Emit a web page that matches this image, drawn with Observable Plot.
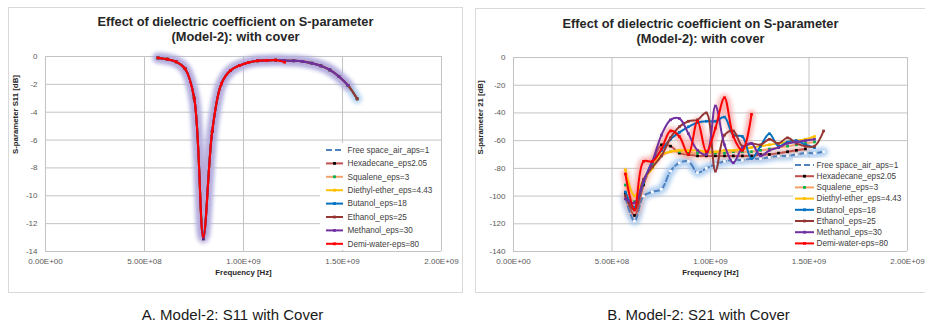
<!DOCTYPE html>
<html><head><meta charset="utf-8">
<script src="https://cdn.jsdelivr.net/npm/d3@7"></script>
<script src="https://cdn.jsdelivr.net/npm/@observablehq/plot@0.6"></script>
<style>
body{margin:0;background:#fff;width:925px;height:327px;position:relative;overflow:hidden;font-family:"Liberation Sans",Arial,sans-serif;}
.panel{position:absolute;border:1px solid #d9d9d9;box-sizing:border-box;background:#fff;}
.title{position:absolute;text-align:center;font-weight:bold;font-size:12.8px;color:#262626;line-height:15px;}
.plot{position:absolute;}
.legend{position:absolute;background:#fff;}
.caption{position:absolute;font-size:15px;color:#1a1a1a;text-align:center;line-height:18px;}
g[stroke="#b9a2d6"],g[stroke="#9fc4ee"],g[stroke="#f59c9c"],g[stroke="#f4b8a8"]{filter:blur(2.2px);}
</style></head>
<body>
<div class="panel" style="left:8px;top:7px;width:455px;height:286px"></div>
<div class="panel" style="left:475px;top:8px;width:451px;height:285px"></div>
<div class="title" style="left:8px;width:455px;top:14px">Effect of dielectric coefficient on S-parameter<br>(Model-2): with cover</div>
<div class="title" style="left:475px;width:451px;top:16px">Effect of dielectric coefficient on S-parameter<br>(Model-2): with cover</div>
<div class="plot" id="plotA" style="left:8px;top:45px"></div>
<div class="plot" id="plotB" style="left:475px;top:45px"></div>
<div class="legend" id="legA" style="left:320px;top:143px;width:121px;height:107px"></div>
<div class="legend" id="legB" style="left:793px;top:158px;width:114px;height:92px"></div>
<div class="caption" style="left:0px;width:465px;top:306px">A. Model-2: S11 with Cover</div>
<div class="caption" style="left:465px;width:467px;top:306px">B. Model-2: S21 with Cover</div>
<script>
// ---------- data ----------
const freqHz = [5.68e8, 6.14e8, 6.60e8, 7.05e8, 7.51e8, 7.97e8, 8.42e8, 8.88e8, 9.34e8, 9.79e8, 1.025e9, 1.071e9,
  1.116e9, 1.162e9, 1.208e9, 1.254e9, 1.299e9, 1.345e9, 1.391e9, 1.436e9, 1.482e9, 1.528e9, 1.574e9];

const seriesNames = ["Free space_air_aps=1", "Hexadecane_eps2.05", "Squalene_eps=3", "Diethyl-ether_eps=4.43",
  "Butanol_eps=18", "Ethanol_eps=25", "Methanol_eps=30", "Demi-water-eps=80"];
const lineColors = ["#4f81bd", "#c0504d", "#f5a26a", "#ffc000", "#0070c0", "#943634", "#7030a0", "#ff0000"];
const markerColors = ["#ffffff", "#000000", "#00b050", "#ffc000", "#0070c0", "#943634", "#7030a0", "#ff0000"];
const lineDashes = ["6,3", null, null, null, null, null, null, null];

// S11 [dB] (panel A)
const s11FreeSpace = [-0.10,-0.19,-0.38,-0.88,-2.99,-12.85,-5.38,-1.96,-1.00,-0.65,-0.43,-0.31,-0.29,-0.26,-0.29,-0.31,-0.36,-0.48,-0.67,-0.96,-1.44,-2.08,-3.04];
const s11Hexadecane = [-0.10,-0.19,-0.38,-0.88,-2.99,-13.10,-5.38,-1.96,-1.00,-0.65,-0.43,-0.31,-0.29,-0.26,-0.29,-0.31,-0.36,-0.48,-0.67,-0.96,-1.44,-2.08,-3.04];
const s11Squalene = [-0.10,-0.19,-0.38,-0.88,-2.99,-13.00,-5.38,-1.96,-1.00,-0.65,-0.43,-0.31,-0.29,-0.26,-0.29,-0.31,-0.36,-0.48,-0.67,-0.96,-1.44,-2.08,-3.04];
const s11Diethyl = [-0.10,-0.19,-0.38,-0.88,-2.99,-12.95,-5.38,-1.96,-1.00,-0.65,-0.43,-0.31,-0.29,-0.26,-0.29,-0.31,-0.36,-0.48,-0.67,-0.96,-1.44,-2.08,-3.04];
const s11Butanol = [-0.10,-0.19,-0.38,-0.88,-2.99,-12.78,-5.38,-1.96,-1.00,-0.65,-0.43,-0.31,-0.29,-0.26,-0.29,-0.31,-0.36,-0.48,-0.67,-0.96,-1.44,-2.08,-3.04];
const s11Ethanol = [-0.10,-0.19,-0.38,-0.88,-2.99,-13.02,-5.38,-1.96,-1.00,-0.65,-0.43,-0.31,-0.29,-0.26,-0.29,-0.31,-0.36,-0.48,-0.67,-0.96,-1.44,-2.08,-3.04];
const s11Methanol = [-0.10,-0.19,-0.38,-0.88,-2.99,-13.05,-5.38,-1.96,-1.00,-0.65,-0.43,-0.31,-0.29,-0.26,-0.29,-0.31,-0.36,-0.48,-0.67,-0.96,-1.44,-2.08];
const s11Demi = [-0.10,-0.19,-0.38,-0.88,-2.99,-12.90,-5.38,-1.96,-1.00,-0.65,-0.43,-0.31,-0.29,-0.26,-0.41];

// S21 [dB] (panel B)
const s21FreeSpace = [-101,-118,-100,-97,-95,-82,-76,-75,-83,-80,-77,-75,-74,-74,-73,-73,-72,-71,-71,-70,-69,-69,-68];
const s21Hexadecane = [-98,-114,-92,-76,-63,-64,-69,-70,-71,-71,-71,-71,-71,-71,-71,-70,-70,-69,-68,-67,-66];
const s21Squalene = [-92,-104,-90,-77,-71,-68,-68,-69,-69,-69,-69,-69,-68,-68,-68,-67,-66,-65,-64,-63,-62,-61];
const s21Diethyl = [-81,-100,-88,-80,-70,-68,-67,-67,-67,-68,-68,-67,-67,-66,-65,-64,-63,-62,-61,-60,-59,-57];
const s21Butanol = [-97,-108,-90,-75,-67,-59,-54,-50,-47,-46,-46,-43,-56,-57,-73,-64,-55,-64,-61,-60,-63,-65];
const s21Ethanol = [-100,-110,-88,-79,-71,-58,-50,-46,-45,-40,-82,-56,-53,-64,-62,-63,-59,-62,-58,-62,-64,-64,-53];
const s21Methanol = [-102,-105,-89,-75,-56,-45,-44,-55,-67,-70,-35,-63,-76,-65,-62,-71,-67,-65,-62,-61,-60,-59];
const s21Demi = [-84,-110,-75,-75,-66,-53,-57,-70,-46,-68,-51,-29,-57,-67,-41];

const xTickValues = [0, 5e8, 1e9, 1.5e9, 2e9];
const xTickLabels = ["0.00E+00", "5.00E+08", "1.00E+09", "1.50E+09", "2.00E+09"];
const yTicksA = [0, -2, -4, -6, -8, -10, -12, -14];
const yTickLabelsA = ["0", "-2", "-4", "-6", "-8", "-10", "-12", "-14"];
const yTicksB = [0, -20, -40, -60, -80, -100, -120, -140];
const yTickLabelsB = ["0", "-20", "-40", "-60", "-80", "-100", "-120", "-140"];

const s11Series = [s11FreeSpace, s11Hexadecane, s11Squalene, s11Diethyl, s11Butanol, s11Ethanol, s11Methanol, s11Demi];
const s21Series = [s21FreeSpace, s21Hexadecane, s21Squalene, s21Diethyl, s21Butanol, s21Ethanol, s21Methanol, s21Demi];

function tidy(seriesArrays) {
  return seriesArrays.map((vals, k) => vals.map((v, i) => ({f: freqHz[i], v, k})));
}

function chart({series, width, ml, mr, mt, mb, yDomain, yTicks, yLabels, yTitle, yTitleDx, glows}) {
  const data = tidy(series);
  const grid = "#c3c3c3";
  const marks = [
    Plot.gridX(xTickValues, {stroke: grid, strokeOpacity: 1}),
    Plot.gridY(yTicks, {stroke: grid, strokeOpacity: 1}),
    Plot.axisX(xTickValues, {tickSize: 0, tickPadding: 7, fontSize: 8, color: "#595959",
      tickFormat: d => xTickLabels[xTickValues.indexOf(d)], label: null}),
    Plot.axisY(yTicks, {tickSize: 0, tickPadding: 8, fontSize: 8, color: "#595959",
      tickFormat: d => yLabels[yTicks.indexOf(d)], label: null}),
  ];
  for (const [k, color, w, o] of glows) {
    marks.push(Plot.line(data[k], {x: "f", y: "v", stroke: color, strokeWidth: w, strokeOpacity: o, curve: "catmull-rom"}));
  }
  data.forEach((d, k) => {
    marks.push(Plot.line(d, {x: "f", y: "v", stroke: lineColors[k], strokeWidth: 2, curve: "catmull-rom",
      strokeDasharray: lineDashes[k] || undefined}));
    marks.push(Plot.dot(d, {x: "f", y: "v", symbol: "square", r: 1.5, fill: markerColors[k], stroke: "none"}));
  });
  marks.push(Plot.text(["Frequency [Hz]"], {frameAnchor: "bottom", dy: 23, fontWeight: "bold", fontSize: 7.8, fill: "#262626"}));
  marks.push(Plot.text([yTitle], {frameAnchor: "left", dx: yTitleDx, rotate: -90, fontWeight: "bold", fontSize: 7.8, fill: "#262626"}));
  return Plot.plot({
    width, height: 240, marginLeft: ml, marginRight: mr, marginTop: mt, marginBottom: mb,
    x: {domain: [0, 2e9]}, y: {domain: yDomain},
    style: {fontFamily: "Liberation Sans, Arial, sans-serif", background: "transparent", overflow: "visible"},
    marks
  });
}

document.getElementById("plotA").append(chart({
  series: s11Series, width: 452, ml: 37, mr: 19, mt: 11, mb: 34, yDomain: [-14, 0],
  yTicks: yTicksA, yLabels: yTickLabelsA, yTitle: "S-parameter S11 [dB]", yTitleDx: -30,
  glows: [[0, "#9fc4ee", 9, 0.85], [6, "#b9a2d6", 10, 0.85]]
}));
document.getElementById("plotB").append(chart({
  series: s21Series, width: 449, ml: 38, mr: 17, mt: 12, mb: 34, yDomain: [-140, 0],
  yTicks: yTicksB, yLabels: yTickLabelsB, yTitle: "S-parameter 21 [dB]", yTitleDx: -33,
  glows: [[0, "#9fc4ee", 9, 0.85], [1, "#f4b8a8", 7, 0.7], [7, "#f59c9c", 8, 0.75]]
}));

function legend(id, {w, h, y0, step, sx0, sx1, tx}) {
  const svg = d3.select("#" + id).append("svg").attr("width", w).attr("height", h)
    .style("font-family", "Liberation Sans, Arial, sans-serif").style("font-size", "8.2px");
  seriesNames.forEach((name, k) => {
    const y = y0 + k * step;
    svg.append("line").attr("x1", sx0).attr("x2", sx1).attr("y1", y).attr("y2", y)
      .attr("stroke", lineColors[k]).attr("stroke-width", 2)
      .attr("stroke-dasharray", lineDashes[k] || null);
    if (k > 0) svg.append("rect").attr("x", (sx0 + sx1) / 2 - 1.4).attr("y", y - 1.4).attr("width", 2.8).attr("height", 2.8).attr("fill", markerColors[k]);
    svg.append("text").attr("x", tx).attr("y", y).attr("dy", "0.35em").attr("fill", "#404040").text(name);
  });
}
legend("legA", {w: 121, h: 107, y0: 7, step: 13.4, sx0: 6, sx1: 23, tx: 27.5});
legend("legB", {w: 114, h: 92, y0: 7, step: 11.2, sx0: 2, sx1: 21, tx: 23.5});
</script>
</body></html>
